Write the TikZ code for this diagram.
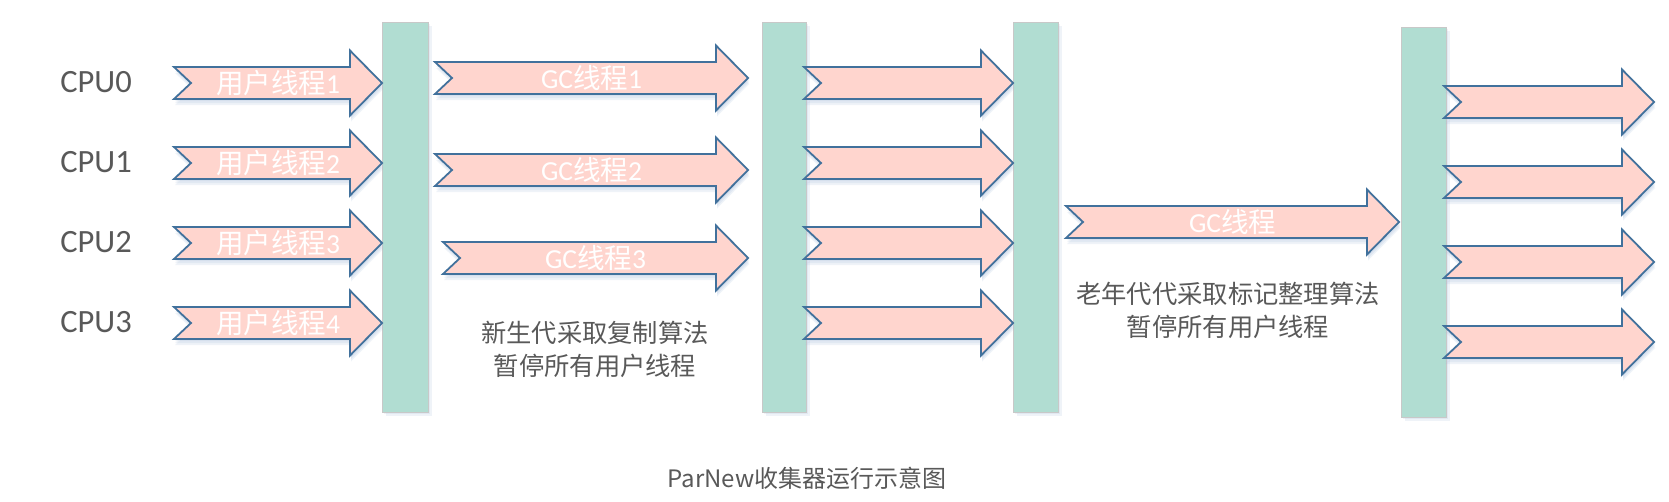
\documentclass[tikz,border=0pt]{standalone}
\usepackage{fontspec}
\setmainfont{Carlito}
\newfontfamily\cjk{Noto Sans CJK SC}
\definecolor{barfill}{HTML}{B1DDD2}
\definecolor{barline}{HTML}{C8C8C8}
\definecolor{arrfill}{HTML}{FFD5CE}
\definecolor{arrline}{HTML}{41719C}
\definecolor{txtgray}{HTML}{595959}
\definecolor{shadowc}{HTML}{9DB5D8}
\tikzset{
  barst/.style={draw=barline, line width=0.8pt, fill=barfill, inner sep=0pt, minimum height=390pt},
  arrst/.style={draw=arrline, line width=1.8pt, fill=arrfill, line join=miter},
  shadst/.style={fill=shadowc, opacity=0.16},
  arrtext/.style={text=white, inner sep=0pt, font=\fontsize{27.5}{32}\selectfont},
  cpulabel/.style={text=txtgray, inner sep=0pt, font=\fontsize{32.5}{38}\selectfont},
  note/.style={text=txtgray, inner sep=0pt, align=center, font=\cjk\fontsize{25.3}{33}\selectfont},
  caption/.style={text=txtgray, inner sep=0pt, font=\cjk\fontsize{24}{28}\selectfont}
}
\newcommand{\arrowshape}[1]{(0,-16) -- (#1-32,-16) -- (#1-32,-32.5) -- (#1,0) -- (#1-32,32.5) -- (#1-32,16) -- (0,16) -- (17,0) -- cycle}
% #1 name, #2 left x, #3 tip x, #4 centre y, #5 text
\newcommand{\blockarrow}[5]{%
  \begin{scope}[shift={(#2,#4)}]
    \foreach \s in {2,4,6} {
      \begin{scope}[shift={(1,\s)}]
        \fill[shadst] \arrowshape{#3-#2};
      \end{scope}
    }
    \draw[arrst] \arrowshape{#3-#2};
  \end{scope}
  \node[arrtext] (#1) at ({(#2+#3)/2},#4) {#5};
}
\newcommand{\barshadow}[4]{%
  \foreach \s in {2,4,6} {
    \fill[shadst] (#1+\s*0.6,#2+\s*0.6) rectangle (#3+\s*0.6,#4+\s*0.6);
  }
}
\begin{document}
\begin{tikzpicture}[x=1pt,y=-1pt]
\useasboundingbox (0,0) rectangle (1669,501);
\fill[white] (0,0) rectangle (1669,501);

% CPU labels
\node[cpulabel] (cpu0) at (96,82) {CPU0};
\node[cpulabel] (cpu1) at (96,162) {CPU1};
\node[cpulabel] (cpu2) at (96,242) {CPU2};
\node[cpulabel] (cpu3) at (96,322) {CPU3};

% bars
\barshadow{382}{22}{428}{412}
\barshadow{762}{22}{806}{412}
\barshadow{1013}{22}{1058}{412}
\barshadow{1401}{27}{1446}{417}
\node[barst, minimum width=46pt] (bar1) at (405,217) {};
\node[barst, minimum width=44pt] (bar2) at (784,217) {};
\node[barst, minimum width=45pt] (bar3) at (1035.5,217) {};
\node[barst, minimum width=45pt] (bar4) at (1423.5,222) {};

% user threads
\blockarrow{u0}{174}{382}{83}{{\cjk 用户线程}1}
\blockarrow{u1}{174}{382}{163}{{\cjk 用户线程}2}
\blockarrow{u2}{174}{382}{243}{{\cjk 用户线程}3}
\blockarrow{u3}{174}{382}{323}{{\cjk 用户线程}4}

% GC threads (young)
\blockarrow{g1}{435}{748}{78}{GC{\cjk 线程}1}
\blockarrow{g2}{435}{748}{170}{GC{\cjk 线程}2}
\blockarrow{g3}{443}{748}{258}{GC{\cjk 线程}3}

% user threads resumed
\blockarrow{m0}{804}{1013}{83}{}
\blockarrow{m1}{804}{1013}{163}{}
\blockarrow{m2}{804}{1013}{243}{}
\blockarrow{m3}{804}{1013}{323}{}

% GC thread (old)
\blockarrow{gold}{1066}{1399}{222}{GC{\cjk 线程}}

% final user threads
\blockarrow{r0}{1444}{1654}{102}{}
\blockarrow{r1}{1444}{1654}{182}{}
\blockarrow{r2}{1444}{1654}{262}{}
\blockarrow{r3}{1444}{1654}{342}{}

% notes
\node[note] (young) at (595,349) {新生代采取复制算法\\暂停所有用户线程};
\node[note] (old) at (1228,310) {老年代代采取标记整理算法\\暂停所有用户线程};

\node[caption] (cap) at (807,478) {ParNew收集器运行示意图};
\end{tikzpicture}
\end{document}
